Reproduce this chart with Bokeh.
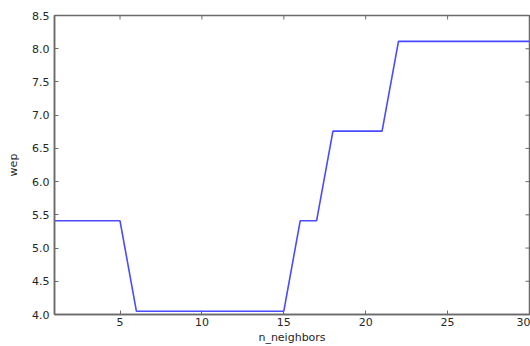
import math
from bokeh.plotting import figure
from bokeh.models import Range1d, FixedTicker, PrintfTickFormatter
from bokeh.embed import file_html
from bokeh.resources import INLINE

# Data
n_neighbors = list(range(1, 31))
wep = [5.41, 5.41, 5.41, 5.41, 5.41,
       4.05, 4.05, 4.05, 4.05, 4.05, 4.05, 4.05, 4.05, 4.05, 4.05,
       5.41, 5.41,
       6.76, 6.76, 6.76, 6.76,
       8.11, 8.11, 8.11, 8.11, 8.11, 8.11, 8.11, 8.11, 8.11]
x_ticks = [5, 10, 15, 20, 25, 30]
y_ticks = [4.0, 4.5, 5.0, 5.5, 6.0, 6.5, 7.0, 7.5, 8.0, 8.5]
x_min, x_max = 1, 30
y_min, y_max = 4.0, 8.5

FONT = "DejaVu Sans"
TXT = "#262626"
FRAME = "#6a6a6a"

p = figure(width=530, height=346, output_backend="svg", toolbar_location=None,
           x_range=Range1d(x_min, x_max), y_range=Range1d(y_min, y_max),
           x_axis_label="n_neighbors", y_axis_label="wep")
p.min_border_left = 54
p.min_border_right = 1
p.min_border_top = 15
p.min_border_bottom = 32
p.background_fill_color = "white"
p.border_fill_color = "white"
p.outline_line_color = FRAME
p.outline_line_width = 1.5
p.xgrid.visible = False
p.ygrid.visible = False

p.line(n_neighbors, wep, line_color="#4a4aff", line_width=1.6)

# inward ticks on the top and right edges (clipped to the frame)
p.scatter(x=x_ticks, y=[y_max] * len(x_ticks), marker="dash", angle=math.pi / 2,
          size=8, line_color=FRAME, line_width=1)
p.scatter(x=[x_max] * len(y_ticks), y=y_ticks, marker="dash",
          size=8, line_color=FRAME, line_width=1)

def style(ax, ticks):
    ax.ticker = FixedTicker(ticks=ticks)
    ax.minor_tick_line_color = None
    ax.major_tick_in = 4
    ax.major_tick_out = 0
    ax.major_tick_line_color = FRAME
    ax.axis_line_color = FRAME
    ax.axis_line_width = 1.5
    ax.major_label_text_font = FONT
    ax.major_label_text_font_size = "11px"
    ax.major_label_text_color = TXT
    ax.axis_label_text_font = FONT
    ax.axis_label_text_font_size = "11px"
    ax.axis_label_text_font_style = "normal"
    ax.axis_label_text_color = TXT

xa = p.xaxis[0]
style(xa, x_ticks)
xa.major_label_standoff = 3
xa.axis_label_standoff = 2

ya = p.yaxis[0]
style(ya, y_ticks)
ya.formatter = PrintfTickFormatter(format="%.1f")
ya.major_label_standoff = 5
ya.axis_label_standoff = 9

open("out.html", "w").write(file_html(p, INLINE))
